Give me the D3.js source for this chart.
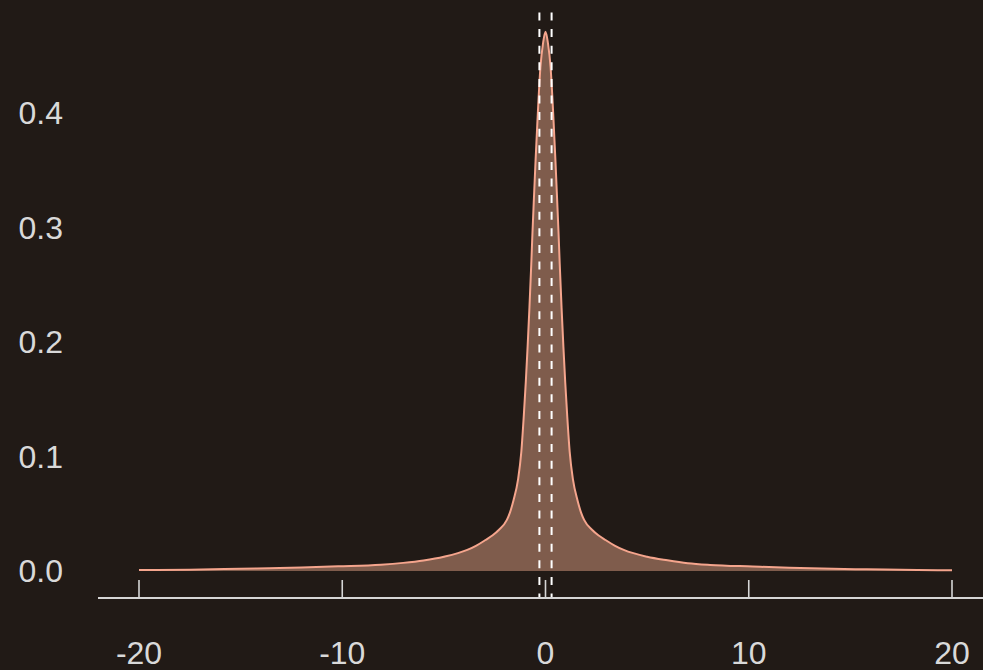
<!DOCTYPE html>
<html>
<head>
<meta charset="utf-8">
<script src="https://cdn.jsdelivr.net/npm/d3@7"></script>
<style>
  html, body { margin: 0; padding: 0; background: #211a16; }
  svg { display: block; }
</style>
</head>
<body>
<svg id="chart" width="983" height="670"></svg>
<script>
// Density curve (x, density)
const densX = [-20, -19.3, -17.5, -15.8, -13.6, -12.0, -10.2, -8.1, -7.0, -6.0, -5.0, -3.85, -3.4, -2.95, -2.6, -2.3, -1.9, -1.75, -1.57, -1.35, -1.19, -1.07, -0.97, -0.88, -0.79, -0.70, -0.64, -0.556, -0.49, -0.41, -0.34, -0.25, -0.12, 0,
               0.12, 0.25, 0.34, 0.41, 0.49, 0.556, 0.64, 0.70, 0.79, 0.88, 0.97, 1.07, 1.19, 1.35, 1.57, 1.75, 1.9, 2.3, 2.6, 2.95, 3.4, 3.85, 5.0, 6.0, 7.0, 8.1, 10.2, 12.0, 13.6, 15.8, 17.5, 19.3, 20];
const densY = [0.0008, 0.0009, 0.0012, 0.0017, 0.0025, 0.0031, 0.0041, 0.0055, 0.0071, 0.0092, 0.0124, 0.0184, 0.0222, 0.0271, 0.0312, 0.0358, 0.0446, 0.051, 0.062, 0.080, 0.104, 0.135, 0.165, 0.196, 0.230, 0.268, 0.296, 0.331, 0.358, 0.388, 0.413, 0.440, 0.461, 0.471,
               0.461, 0.440, 0.413, 0.388, 0.358, 0.331, 0.296, 0.268, 0.230, 0.196, 0.165, 0.135, 0.104, 0.080, 0.062, 0.051, 0.0446, 0.0358, 0.0312, 0.0271, 0.0222, 0.0184, 0.0124, 0.0093, 0.0068, 0.0053, 0.0039, 0.0028, 0.0021, 0.0015, 0.0011, 0.0007, 0.0006];
// Dashed reference lines
const refLines = [-0.3, 0.3];
// Ticks
const xTicks = [-20, -10, 0, 10, 20];
const yTicks = [0.0, 0.1, 0.2, 0.3, 0.4];

const svg = d3.select("#chart");
const x = d3.scaleLinear().domain([-20, 20]).range([139, 952]);
const y = d3.scaleLinear().domain([0, 0.4]).range([571, 113]);

const pts = densX.map((d, i) => [d, densY[i]]);

svg.append("path")
  .datum(pts)
  .attr("fill", "#7f5c4c")
  .attr("d", d3.area().x(d => x(d[0])).y0(y(0)).y1(d => y(d[1])).curve(d3.curveMonotoneX));

svg.append("path")
  .datum(pts)
  .attr("fill", "none")
  .attr("stroke", "#f5a58d")
  .attr("stroke-width", 2)
  .attr("d", d3.line().x(d => x(d[0])).y(d => y(d[1])).curve(d3.curveMonotoneX));

// dashed lines
svg.selectAll("line.ref").data(refLines).enter().append("line")
  .attr("class", "ref")
  .attr("x1", d => x(d)).attr("x2", d => x(d))
  .attr("y1", 12.5).attr("y2", 598)
  .attr("stroke", "#ffffff")
  .attr("stroke-width", 2)
  .attr("stroke-dasharray", "8,8.6");

// x axis
const xAxis = svg.append("g").attr("transform", "translate(0,598)");
xAxis.append("line").attr("x1", 98).attr("x2", 983).attr("y1", 0).attr("y2", 0)
  .attr("stroke", "#d6d6d6").attr("stroke-width", 1.8);
xAxis.selectAll("line.tick").data(xTicks).enter().append("line")
  .attr("class", "tick")
  .attr("x1", d => x(d)).attr("x2", d => x(d)).attr("y1", 0).attr("y2", -18)
  .attr("stroke", "#d6d6d6").attr("stroke-width", 1.6);
xAxis.selectAll("text").data(xTicks).enter().append("text")
  .attr("x", d => x(d)).attr("y", 55)
  .attr("text-anchor", "middle")
  .attr("dominant-baseline", "central")
  .attr("fill", "#d9d9d9")
  .attr("font-family", "Liberation Sans, Arial, sans-serif")
  .attr("font-size", 32)
  .text(d => String(d));

// y labels
svg.append("g").selectAll("text").data(yTicks).enter().append("text")
  .attr("x", 63).attr("y", d => y(d))
  .attr("text-anchor", "end")
  .attr("dominant-baseline", "central")
  .attr("fill", "#d9d9d9")
  .attr("font-family", "Liberation Sans, Arial, sans-serif")
  .attr("font-size", 32)
  .text(d => d.toFixed(1));
</script>
</body>
</html>
